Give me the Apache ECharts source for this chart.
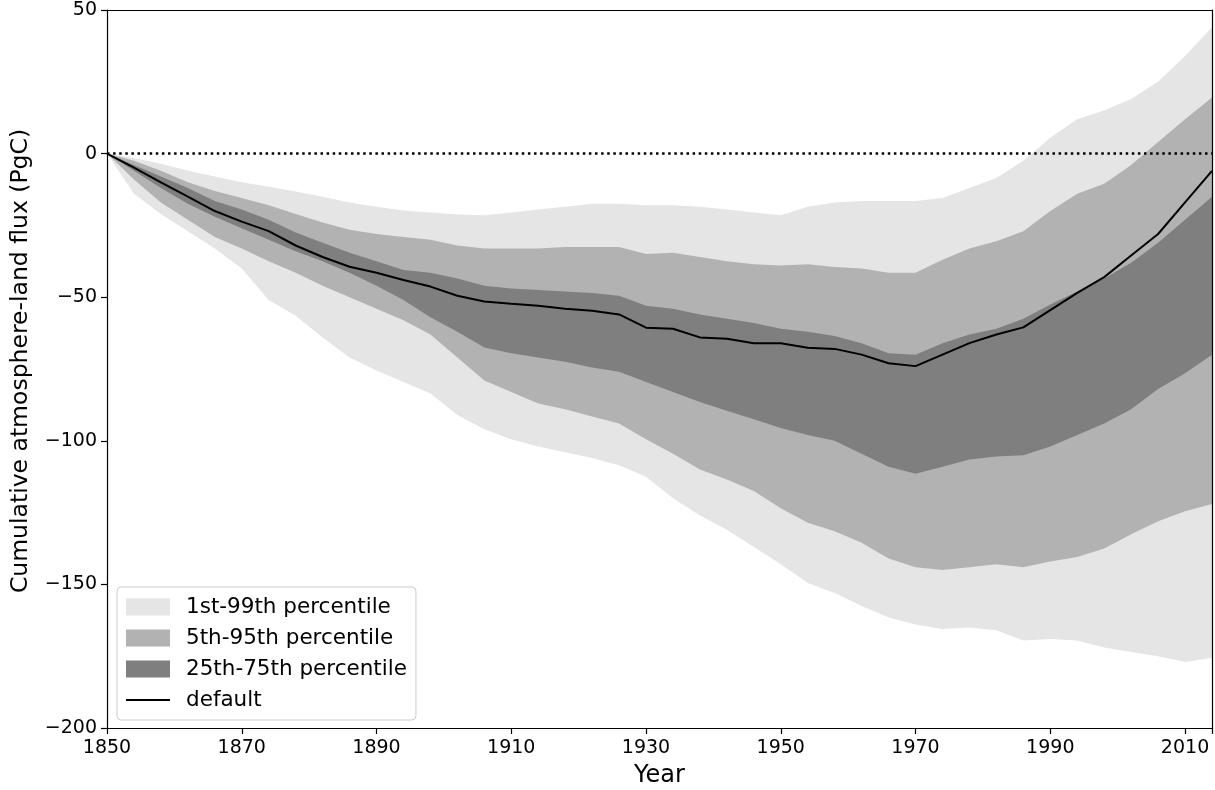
<!DOCTYPE html>
<html>
<head>
<meta charset="utf-8">
<script src="https://cdn.jsdelivr.net/npm/echarts@6/dist/echarts.min.js"></script>
<style>
  html, body { margin: 0; padding: 0; background: #fff; }
  #chart { width: 1215px; height: 790px; }
</style>
</head>
<body>
<div id="chart"></div>
<script>
const years = [1850, 1854, 1858, 1862, 1866, 1870, 1874, 1878, 1882, 1886, 1890, 1894, 1898, 1902,
  1906, 1910, 1914, 1918, 1922, 1926, 1930, 1934, 1938, 1942, 1946, 1950, 1954, 1958, 1962, 1966,
  1970, 1974, 1978, 1982, 1986, 1990, 1994, 1998, 2002, 2006, 2010, 2014];

const p99 = [0, -1.5, -3.5, -6, -8, -10, -11.5, -13.2, -15, -17, -18.5, -19.8, -20.5, -21.2,
  -21.5, -20.5, -19.5, -18.5, -17.5, -17.5, -18, -18, -18.5, -19.5, -20.5, -21.5, -18.5, -17, -16.5, -16.5,
  -16.5, -15.5, -12, -8.5, -2.5, 5.5, 12, 15, 19, 25, 34, 44];
const p95 = [0, -2.5, -6, -10, -13, -15.5, -18, -21, -24, -26.5, -28, -29, -30, -32,
  -33, -33, -33, -32.5, -32.5, -32.5, -35, -34.5, -36, -37.5, -38.5, -39, -38.5, -39.5, -40, -41.5,
  -41.5, -37, -33, -30.5, -27, -20, -14, -10.5, -4, 4, 12, 19.5];
const p75 = [0, -4, -8, -12, -16.5, -19.5, -23, -27.5, -31, -34.5, -37.5, -40.5, -41.5, -43.5,
  -46, -47, -47.5, -48, -48.5, -49.5, -53, -54, -56, -57.5, -59, -61, -62, -63.5, -66, -69.5,
  -70, -66, -63, -61, -57.5, -52.5, -48, -43.5, -38, -31, -23, -15];
const p25 = [0, -6, -12, -17.5, -22, -26, -30, -34, -37.5, -41.5, -46, -51, -57, -62,
  -67.5, -69.5, -71, -72.5, -74.5, -76, -79.5, -83, -86.5, -89.5, -92.5, -95.5, -98, -100, -104.5, -109,
  -111.5, -109, -106.5, -105.5, -105, -102, -98, -94, -89, -82, -76.5, -70];
const p5 = [0, -9, -17, -23, -29, -33, -37.5, -41.5, -46, -50, -54, -58, -63, -71,
  -79, -83, -87, -89, -91.5, -94, -99.5, -104.5, -110, -113.5, -117.5, -123.5, -128.5, -131.5, -135.5, -141,
  -144, -145, -144, -143, -144, -142, -140.5, -137.5, -132.5, -128, -124.5, -122];
const p1 = [0, -14, -21, -27, -33, -40, -51, -56.5, -64, -71, -75.5, -79.5, -83.5, -91,
  -96, -99.5, -102, -104, -106, -108.5, -112.5, -120, -126, -131, -137, -143, -149.5, -153, -157.5, -161.5,
  -164, -165.5, -165, -166, -169.5, -169, -169.5, -172, -173.5, -175, -177, -175.5];
const defaultRun = [0, -4.9, -10, -15, -20, -23.7, -27, -32, -36, -39.4, -41.5, -44, -46.3, -49.5,
  -51.5, -52.3, -53, -54, -54.7, -56, -60.6, -61, -64, -64.5, -66, -66, -67.6, -68, -70, -73,
  -74, -70, -66, -63, -60.5, -54.5, -48.5, -43, -35.5, -28, -17, -6];

const xTicks = [1850, 1870, 1890, 1910, 1930, 1950, 1970, 1990, 2010];
const bandNames = ['1st-99th percentile', '5th-95th percentile', '25th-75th percentile'];
const bandColors = ['#e5e5e5', '#b2b2b2', '#7f7f7f'];

const FONT = 'DejaVu Sans';
const pair = (arr) => arr.map((v, i) => [years[i], v]);

// each curve is filled down to the axis floor; drawn in order so the
// nested bands come out right (upper edges first, then lower edges)
function fillDown(name, arr, color) {
  return {
    name: name, type: 'line', data: pair(arr), symbol: 'none', silent: true,
    lineStyle: { width: 0, opacity: 0 },
    itemStyle: { color: color },
    areaStyle: { color: color, opacity: 1, origin: 'start' }
  };
}

const chart = echarts.init(document.getElementById('chart'));

const frameAxis = {
  axisLine: { show: true, onZero: false, lineStyle: { color: '#000', width: 1.2 } },
  axisTick: { show: false }, axisLabel: { show: false }, splitLine: { show: false }, z: 10
};

const option = {
  animation: false,
  grid: { left: 107, right: 3, top: 10, bottom: 62, outerBoundsMode: 'none' },
  legend: {
    orient: 'vertical', left: 117, top: 587, selectedMode: false,
    padding: [9, 9, 9, 9], itemGap: 9, itemWidth: 44, itemHeight: 17,
    backgroundColor: '#fff', borderColor: '#cccccc', borderWidth: 1, borderRadius: 4,
    textStyle: { fontFamily: FONT, fontSize: 21.5, color: '#000', padding: [0, 0, 0, 11] },
    data: [
      { name: bandNames[0], icon: 'rect' },
      { name: bandNames[1], icon: 'rect' },
      { name: bandNames[2], icon: 'rect' },
      { name: 'default', icon: 'path://M0,0H44V2.2H0Z', itemStyle: { color: '#000' } }
    ]
  },
  xAxis: [
    {
      type: 'value', min: 1850, max: 2014, interval: 20,
      name: 'Year', nameLocation: 'middle', nameGap: 36,
      nameTextStyle: { fontFamily: FONT, fontSize: 24, color: '#000' },
      axisLine: { onZero: false, lineStyle: { color: '#000', width: 1.2 } },
      axisTick: { length: 6, lineStyle: { color: '#000', width: 1.2 } },
      axisLabel: {
        fontFamily: FONT, fontSize: 19, color: '#000', margin: 11,
        formatter: (v) => (xTicks.includes(v) ? String(v) : '')
      },
      splitLine: { show: false }, z: 10
    },
    Object.assign({ type: 'value', min: 1850, max: 2014, position: 'top' }, frameAxis)
  ],
  yAxis: [
    {
      type: 'value', min: -200, max: 50, interval: 50,
      name: 'Cumulative atmosphere-land flux (PgC)', nameLocation: 'middle', nameGap: 74,
      nameTextStyle: { fontFamily: FONT, fontSize: 23.5, color: '#000', padding: [0, 0, 0, 16] },
      axisLine: { show: true, onZero: false, lineStyle: { color: '#000', width: 1.2 } },
      axisTick: { show: true, length: 6, lineStyle: { color: '#000', width: 1.2 } },
      axisLabel: {
        fontFamily: FONT, fontSize: 19, color: '#000', margin: 10,
        formatter: (v) => (v < 0 ? '\u2212' + Math.abs(v) : String(v))
      },
      splitLine: { show: false }, z: 10
    },
    Object.assign({ type: 'value', min: -200, max: 50, position: 'right' }, frameAxis)
  ],
  series: [
    fillDown(bandNames[0], p99, bandColors[0]),
    fillDown(bandNames[1], p95, bandColors[1]),
    fillDown(bandNames[2], p75, bandColors[2]),
    fillDown('p25', p25, bandColors[1]),
    fillDown('p5', p5, bandColors[0]),
    fillDown('p1', p1, '#ffffff'),
    {
      name: 'default', type: 'line', data: pair(defaultRun), symbol: 'none', silent: true, z: 4,
      itemStyle: { color: '#000' }, lineStyle: { color: '#000', width: 2 }
    },
    {
      name: 'zero', type: 'line', data: [[1850, 0], [2014, 0]], symbol: 'none', silent: true, z: 5,
      lineStyle: { color: '#000', width: 2.5, type: [2.5, 3.6] }
    }
  ]
};

chart.setOption(option);
</script>
</body>
</html>
